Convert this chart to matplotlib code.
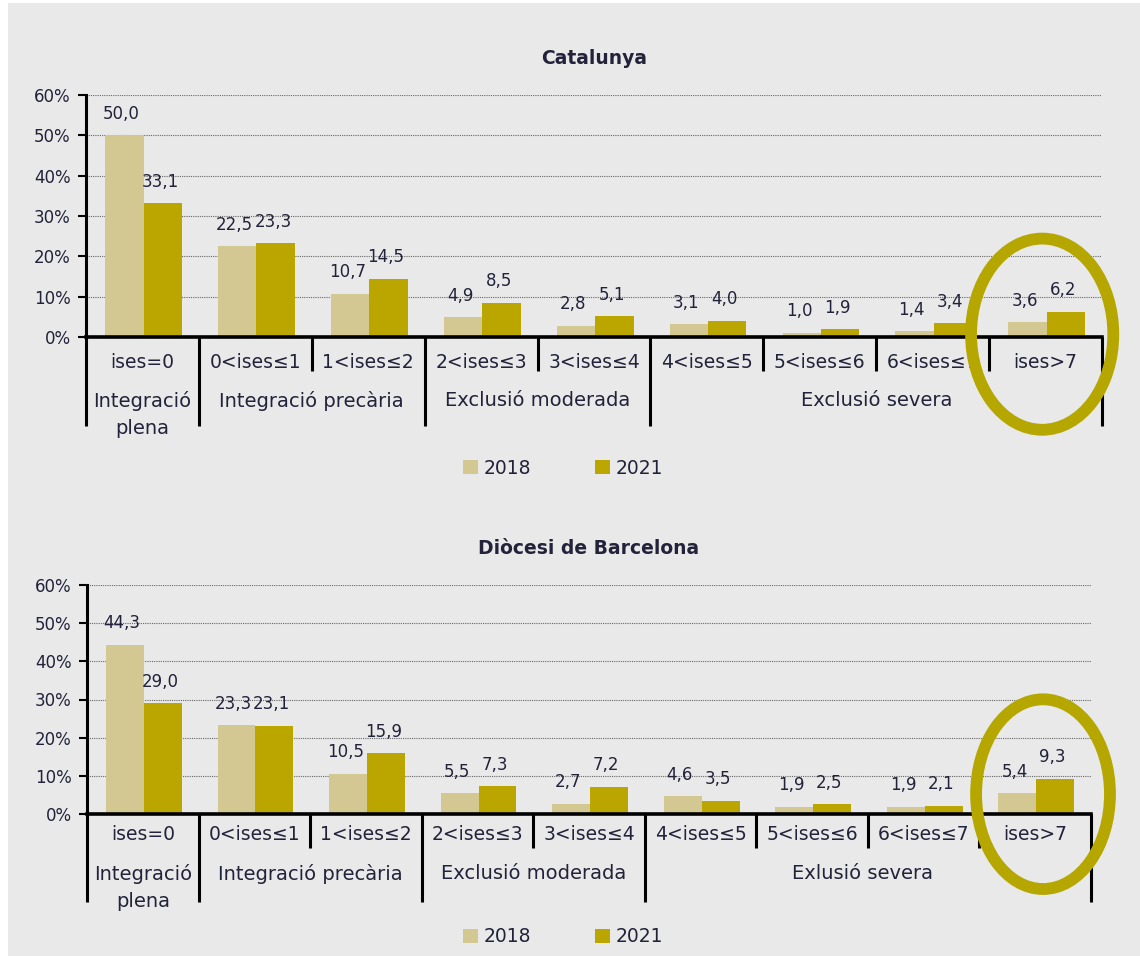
import matplotlib
matplotlib.use("Agg")
import matplotlib.pyplot as plt
from matplotlib.patches import Ellipse, Rectangle, Patch
from matplotlib.transforms import blended_transform_factory

plt.rcParams['font.family'] = ['DejaVu Sans']

categories = ["ises=0", "0<ises≤1", "1<ises≤2", "2<ises≤3", "3<ises≤4",
              "4<ises≤5", "5<ises≤6", "6<ises≤7", "ises>7"]
years = ["2018", "2021"]

cat_2018 = [50.0, 22.5, 10.7, 4.9, 2.8, 3.1, 1.0, 1.4, 3.6]
cat_2021 = [33.1, 23.3, 14.5, 8.5, 5.1, 4.0, 1.9, 3.4, 6.2]
bcn_2018 = [44.3, 23.3, 10.5, 5.5, 2.7, 4.6, 1.9, 1.9, 5.4]
bcn_2021 = [29.0, 23.1, 15.9, 7.3, 7.2, 3.5, 2.5, 2.1, 9.3]

yticks = [0, 10, 20, 30, 40, 50, 60]

# group labels: (text, x centre in category units)
groups_cat = [("Integració\nplena", 0), ("Integració precària", 1.5),
              ("Exclusió moderada", 3.5), ("Exclusió severa", 6.5)]
groups_bcn = [("Integració\nplena", 0), ("Integració precària", 1.5),
              ("Exclusió moderada", 3.5), ("Exlusió severa", 6.45)]

long_seps = [-0.5, 0.5, 2.5, 4.5, 8.5]
short_seps = [1.5, 3.5, 5.5, 6.5, 7.5]

C18 = '#d3c891'
C21 = '#bba600'
RING = '#b5a600'
TXT = '#22223a'
BG = '#e9e9e9'

W, H = 1140, 956
fig = plt.figure(figsize=(W / 100, H / 100), dpi=100, facecolor='white')
fig.patches.append(Rectangle((8 / W, 0), 1, 1 - 3 / H, transform=fig.transFigure,
                             facecolor=BG, edgecolor='none', zorder=-10))


def draw_panel(rect_px, title, v18, v21, groups, short_px, long_px,
               cat_y, grp_y, ring):
    left, top, right, bottom = rect_px
    ax = fig.add_axes([left / W, 1 - bottom / H, (right - left) / W, (bottom - top) / H])
    ax.set_facecolor('none')
    hpx = bottom - top
    x = list(range(len(categories)))
    bw = 0.34
    b1 = ax.bar([i - bw / 2 + 0.01 for i in x], v18, bw, color=C18, zorder=2)
    b2 = ax.bar([i + bw / 2 + 0.01 for i in x], v21, bw, color=C21, zorder=2)
    for bars, vals in ((b1, v18), (b2, v21)):
        for b, v in zip(bars, vals):
            ax.annotate(f"{v:.1f}".replace('.', ','),
                        (b.get_x() + b.get_width() / 2, v),
                        xytext=(-2, 9), textcoords='offset points',
                        ha='center', va='bottom', fontsize=12, color=TXT, zorder=3)

    ax.set_xlim(-0.5, 8.5)
    ax.set_ylim(0, 60)
    ax.set_yticks(yticks)
    ax.set_yticklabels([f"{t}%" for t in yticks], fontsize=12, color=TXT)
    ax.tick_params(axis='y', length=6, width=1.5, color='black', pad=5)
    ax.set_xticks([])
    ax.yaxis.grid(True, linestyle=(0, (1, 1)), color='#666666', linewidth=0.8, zorder=0)
    ax.set_axisbelow(True)
    for s in ('top', 'right'):
        ax.spines[s].set_visible(False)
    ax.spines['left'].set_linewidth(2.2)
    ax.spines['bottom'].set_linewidth(2.6)
    ax.spines['left'].set_zorder(4)
    ax.spines['bottom'].set_zorder(4)

    trans = blended_transform_factory(ax.transData, ax.transAxes)
    for xs in long_seps:
        ax.plot([xs, xs], [0, -long_px / hpx], transform=trans, color='black',
                linewidth=2.2, clip_on=False, solid_capstyle='butt')
    for xs in short_seps:
        ax.plot([xs, xs], [0, -short_px / hpx], transform=trans, color='black',
                linewidth=2.2, clip_on=False, solid_capstyle='butt')

    for i, lab in enumerate(categories):
        ax.text(i, -cat_y / hpx, lab, transform=trans, ha='center', va='center',
                fontsize=13.5, color=TXT)
    for lab, gx in groups:
        ax.text(gx, -grp_y / hpx, lab, transform=trans, ha='center', va='top',
                fontsize=14, color=TXT, linespacing=1.55)

    ax.set_title(title, fontsize=13.5, fontweight='bold', color=TXT, pad=22)

    rx, ry, rw, rh = ring
    ax.add_patch(Ellipse((rx, ry), rw, rh, fill=False, edgecolor=RING,
                         linewidth=8.5, clip_on=False, zorder=6))
    return ax


draw_panel((86, 95, 1102, 337), "Catalunya", cat_2018, cat_2021, groups_cat,
           34, 89, 25, 54, (7.97, 0.7, 1.26, 47.4))
draw_panel((87, 585, 1091, 814), "Diòcesi de Barcelona", bcn_2018, bcn_2021, groups_bcn,
           34, 88, 21, 50, (8.07, 5.2, 1.2, 49.7))

handles = [Patch(facecolor=C18, label=years[0]), Patch(facecolor=C21, label=years[1])]
for ly in (468, 937):
    fig.legend(handles=handles, loc='center', bbox_to_anchor=(0.494, 1 - ly / H),
               ncol=2, frameon=False, fontsize=13.5, handlelength=0.8, handleheight=0.8,
               handletextpad=0.3, columnspacing=3.4, labelcolor=TXT)

fig.savefig("out.png", dpi=100, facecolor=fig.get_facecolor())
